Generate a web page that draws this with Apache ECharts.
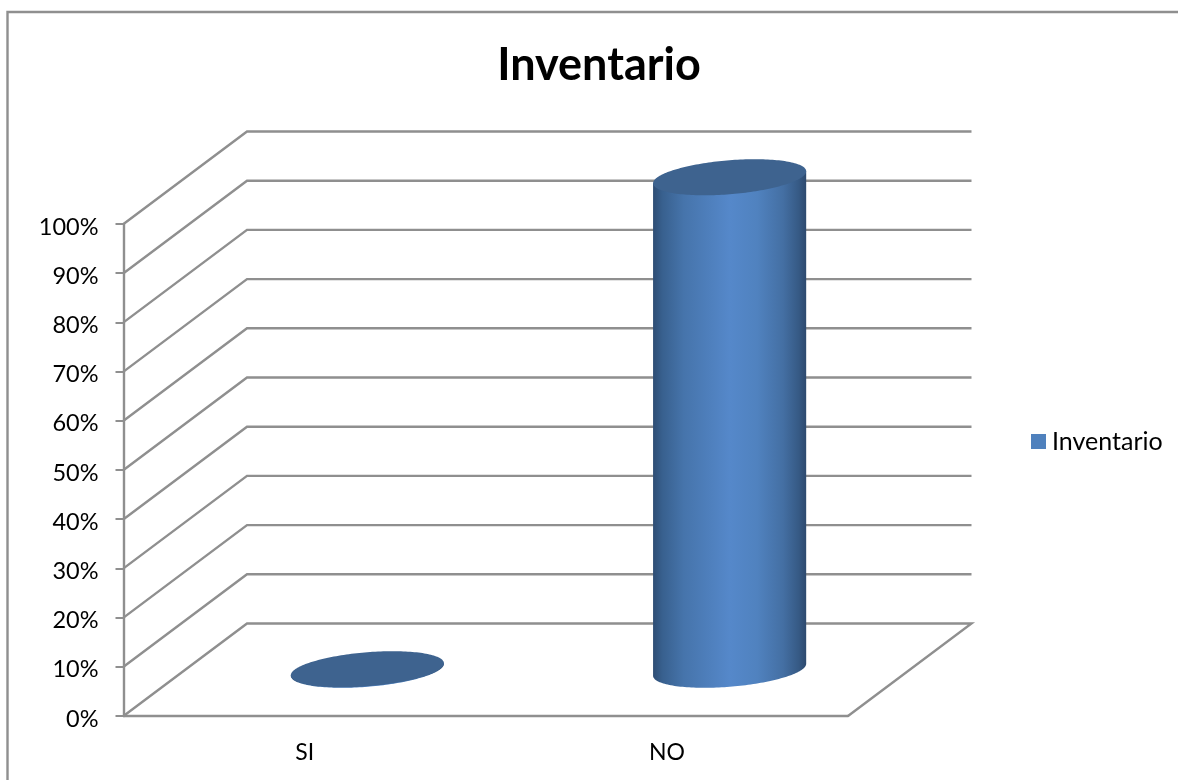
<!DOCTYPE html>
<html>
<head>
<meta charset="utf-8">
<style>html,body{margin:0;padding:0;background:#fff}#c{width:1178px;height:780px}</style>
<script src="https://cdn.jsdelivr.net/npm/echarts@6/dist/echarts.min.js"></script>
</head>
<body>
<div id="c"></div>
<script>
var categories = ['SI', 'NO'];
var seriesName = 'Inventario';
var values = [0, 1];
var yTicks = [0, 0.1, 0.2, 0.3, 0.4, 0.5, 0.6, 0.7, 0.8, 0.9, 1];

var FONT = 'Lato';
var LINE = '#8f8f8f';
var LW = 2.4;
var DEPTH_X = 123.5, DEPTH_Y = 92.5;
var BAR_RATIO = 0.4227;

function ringPoint(cx, cy, a, t) {
  return [cx + a * Math.cos(t), cy - 6 * Math.cos(t) + 17 * Math.sin(t)];
}

var chart = echarts.init(document.getElementById('c'), null, {renderer: 'canvas'});
chart.setOption({
  animation: false,
  backgroundColor: '#ffffff',
  title: {
    text: 'Inventario', left: 594, top: 38, textAlign: 'center',
    textStyle: {fontFamily: FONT, fontWeight: 'bold', fontSize: 45, color: '#000'}
  },
  legend: {
    data: [seriesName], left: 1026, top: 424, icon: 'rect',
    itemWidth: 15, itemHeight: 15, itemGap: 6,
    textStyle: {fontFamily: FONT, fontSize: 25, color: '#000', padding: [0, 0, 0, 1]}
  },
  grid: {left: 123.5, right: 330, top: 224, bottom: 64},
  xAxis: {
    type: 'category', data: categories,
    axisLine: {lineStyle: {color: LINE, width: LW}},
    axisTick: {length: 9, lineStyle: {color: LINE, width: 2}},
    axisLabel: {fontFamily: FONT, fontSize: 23, color: '#000', margin: 25}
  },
  yAxis: {
    type: 'value', min: 0, max: 1, interval: 0.1,
    axisLine: {show: true, lineStyle: {color: LINE, width: LW}},
    axisTick: {show: true, length: 8, lineStyle: {color: LINE, width: 2}},
    axisLabel: {
      margin: 25,
      formatter: function (v) { return '{p|' + Math.round(v * 100) + '%}'; },
      rich: {p: {fontFamily: FONT, fontSize: 23.5, color: '#000', padding: [6, 0, 0, 0]}}
    },
    splitLine: {show: false}
  },
  graphic: [{
    type: 'polyline', silent: true, z: 0,
    shape: {points: [[7.5, 780], [7.5, 12], [1178, 12]]},
    style: {stroke: LINE, lineWidth: LW, fill: null}
  }],
  series: [{
    name: 'walls', type: 'custom', silent: true, z: 1,
    data: yTicks.map(function (t) { return [t]; }),
    encode: {y: 0},
    renderItem: function (params, api) {
      var v = api.value(0);
      var a = api.coord([0, v]);
      var x0 = params.coordSys.x, x1 = params.coordSys.x + params.coordSys.width;
      var pts = [[x0, a[1]], [x0 + DEPTH_X, a[1] - DEPTH_Y], [x1 + DEPTH_X, a[1] - DEPTH_Y]];
      if (v === 0) pts.push([x1, a[1]]);
      return {
        type: 'polyline', shape: {points: pts},
        style: {stroke: LINE, lineWidth: LW, fill: null}
      };
    }
  }, {
    name: seriesName, type: 'custom', silent: true, z: 3,
    itemStyle: {color: '#4f81bd'},
    data: categories.map(function (c, i) { return [i, values[i]]; }),
    encode: {x: 0, y: 1},
    renderItem: function (params, api) {
      var base = api.coord([api.value(0), 0]);
      var top = api.coord([api.value(0), api.value(1)]);
      var a = api.size([1, 0])[0] * BAR_RATIO / 2;
      var cx = base[0] + DEPTH_X / 2 + 1;
      var by = base[1] - DEPTH_Y / 2, ty = top[1] - DEPTH_Y / 2 - 0.5;
      var body = [], ring = [], i, t, N = 90;
      for (i = 0; i <= N; i++) {
        t = Math.PI - Math.PI * i / N;
        body.push(ringPoint(cx, by, a, t));
      }
      body.push(ringPoint(cx, ty, a, 0));
      body.push(ringPoint(cx, ty, a, Math.PI));
      for (i = 0; i < 2 * N; i++) ring.push(ringPoint(cx, ty, a, Math.PI * i / N));
      return {
        type: 'group',
        children: [{
          type: 'polygon', shape: {points: body},
          style: {fill: new echarts.graphic.LinearGradient(0, 0, 1, 0, [
            {offset: 0, color: '#2e4d74'},
            {offset: 0.06, color: '#38608e'},
            {offset: 0.2, color: '#4674ab'},
            {offset: 0.5, color: '#5588ca'},
            {offset: 0.68, color: '#5082bf'},
            {offset: 0.85, color: '#446fa3'},
            {offset: 0.95, color: '#365a85'},
            {offset: 1, color: '#2d4a6f'}
          ])}
        }, {
          type: 'polygon', shape: {points: ring},
          style: {fill: '#3e638f'}
        }]
      };
    }
  }]
});
</script>
</body>
</html>
